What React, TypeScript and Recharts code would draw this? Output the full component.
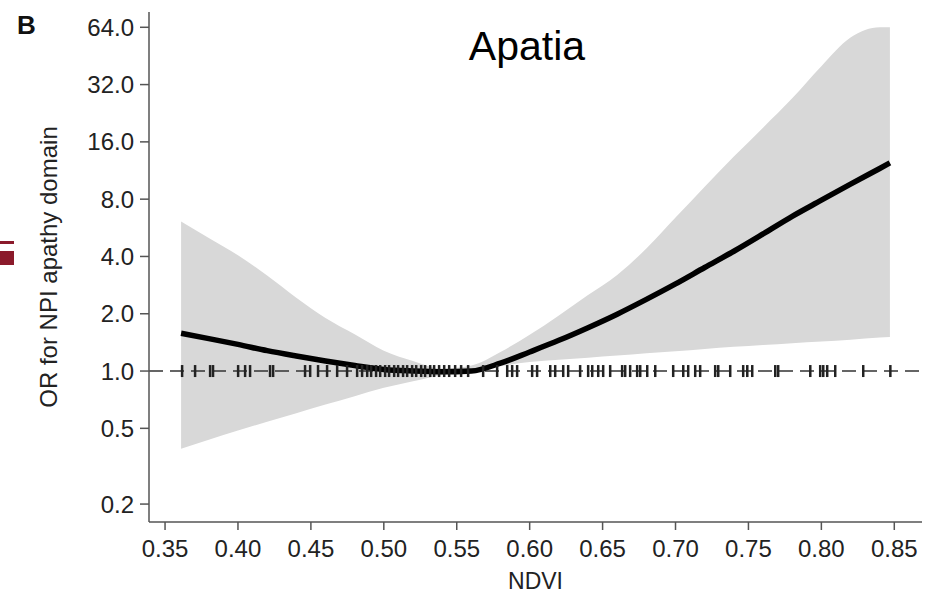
import React from "react";
import {
  ComposedChart,
  Area,
  Line,
  Scatter,
  XAxis,
  YAxis,
  ReferenceLine,
} from "recharts";

// NDVI grid the spline was read on
const ndvi = [
  0.361, 0.38, 0.4, 0.42, 0.44, 0.46, 0.48, 0.5, 0.52, 0.54, 0.56, 0.58, 0.6,
  0.62, 0.64, 0.66, 0.68, 0.7, 0.72, 0.74, 0.76, 0.78, 0.8, 0.82, 0.84, 0.847,
];
// odds ratio (fit) and 95% CI
const orFit = [
  1.58, 1.48, 1.38, 1.28, 1.2, 1.13, 1.07, 1.02, 1.0, 0.99, 1.0, 1.1, 1.26,
  1.45, 1.69, 1.99, 2.38, 2.87, 3.5, 4.26, 5.25, 6.5, 7.9, 9.6, 11.6, 12.4,
];
const ciLow = [
  0.39, 0.436, 0.487, 0.541, 0.601, 0.667, 0.738, 0.816, 0.883, 0.953, 0.99,
  1.06, 1.115, 1.145, 1.175, 1.206, 1.24, 1.27, 1.306, 1.34, 1.37, 1.4, 1.43,
  1.46, 1.5, 1.51,
];
const ciHigh = [
  6.1, 5.0, 4.06, 3.18, 2.43, 1.9, 1.56, 1.28, 1.13, 1.03, 1.07, 1.26, 1.55,
  1.96, 2.51, 3.2, 4.4, 6.4, 9.3, 13.4, 19.0, 27.1, 40.0, 56.5, 64, 64,
];

// observed NDVI values (rug at OR = 1)
const rugNdvi = [
  0.3617, 0.3706, 0.3809, 0.3829, 0.4001, 0.4049, 0.4083, 0.422, 0.4241,
  0.446, 0.4495, 0.4549, 0.4611, 0.468, 0.4748, 0.4817, 0.4851, 0.4886,
  0.4913, 0.4947, 0.4975, 0.5009, 0.5036, 0.5071, 0.5098, 0.5132, 0.516,
  0.5194, 0.5222, 0.5256, 0.5283, 0.5318, 0.5345, 0.5379, 0.5414, 0.5448,
  0.5489, 0.553, 0.5578, 0.5681, 0.5777, 0.5846, 0.588, 0.5914, 0.6017,
  0.6051, 0.6141, 0.6175, 0.623, 0.6264, 0.6346, 0.6401, 0.6429, 0.647,
  0.6504, 0.6552, 0.6634, 0.6655, 0.6689, 0.6737, 0.6758, 0.6806, 0.6861,
  0.6984, 0.7053, 0.7087, 0.7135, 0.7169, 0.7272, 0.7293, 0.7375, 0.7464,
  0.7492, 0.7526, 0.7684, 0.7704, 0.7924, 0.7992, 0.8013, 0.804, 0.8095,
  0.8287, 0.8473,
];

const xTicks = [0.35, 0.4, 0.45, 0.5, 0.55, 0.6, 0.65, 0.7, 0.75, 0.8, 0.85];
const yTicks = [0.2, 0.5, 1, 2, 4, 8, 16, 32, 64];

const curve = ndvi.map((x, i) => ({
  ndvi: x,
  or: orFit[i],
  ci: [ciLow[i], ciHigh[i]],
}));
const rug = rugNdvi.map((x) => ({ ndvi: x, rug: 1 }));

const font = "'Liberation Sans', Arial, sans-serif";
const axisGrey = "#555";

function RugTick(props: any) {
  const { cx, cy } = props;
  if (cx == null || cy == null) return null;
  return (
    <line x1={cx} x2={cx} y1={cy - 6} y2={cy + 6} stroke="#222" strokeWidth={2.5} />
  );
}

export default function App() {
  return (
    <div style={{ position: "absolute", left: 0, top: 0, width: 935, height: 594, background: "#fff", fontFamily: font }}>
      <ComposedChart
        width={935}
        height={594}
        data={curve}
        margin={{ top: 12, right: 13, bottom: 0, left: 0 }}
      >
        <XAxis
          dataKey="ndvi"
          type="number"
          domain={[0.339, 0.869]}
          ticks={xTicks}
          allowDataOverflow
          tickFormatter={(v: number) => v.toFixed(2)}
          height={72}
          tickSize={8}
          tickMargin={10}
          stroke={axisGrey}
          strokeWidth={1.5}
          tick={{ fill: "#222", fontSize: 24, fontFamily: font }}
          label={{ value: "NDVI", position: "insideBottom", offset: 5, fill: "#222", fontSize: 23, fontFamily: font }}
        />
        <YAxis
          scale="log"
          type="number"
          domain={[0.161, 77]}
          ticks={yTicks}
          allowDataOverflow
          tickFormatter={(v: number) => v.toFixed(1)}
          width={149}
          tickSize={9}
          tickMargin={6}
          stroke={axisGrey}
          strokeWidth={1.5}
          tick={{ fill: "#222", fontSize: 24, fontFamily: font }}
          label={{
            value: "OR for NPI apathy domain",
            angle: -90,
            position: "insideLeft",
            offset: 48,
            textAnchor: "middle",
            fill: "#222",
            fontSize: 24,
            fontFamily: font,
          }}
        />
        <Area
          dataKey="ci"
          type="monotone"
          stroke="none"
          fill="#d8d8d8"
          fillOpacity={1}
          isAnimationActive={false}
        />
        <ReferenceLine y={1} stroke="#333" strokeWidth={1.5} strokeDasharray="14 7" />
        <Scatter data={rug} dataKey="rug" shape={RugTick} isAnimationActive={false} />
        <Line
          dataKey="or"
          type="monotone"
          stroke="#000"
          strokeWidth={5.5}
          dot={false}
          isAnimationActive={false}
        />
      </ComposedChart>
      <svg
        width={935}
        height={594}
        style={{ position: "absolute", left: 0, top: 0, pointerEvents: "none" }}
      >
        <rect x={0} y={241} width={14} height={3} fill="#8b1a2b" />
        <rect x={0} y={251} width={14} height={14} fill="#8b1a2b" />
        <text x={17} y={34} fontFamily={font} fontWeight="bold" fontSize={26} fill="#111">
          B
        </text>
        <text x={527} y={60} textAnchor="middle" fontFamily={font} fontSize={41} fill="#000">
          Apatia
        </text>
      </svg>
    </div>
  );
}
